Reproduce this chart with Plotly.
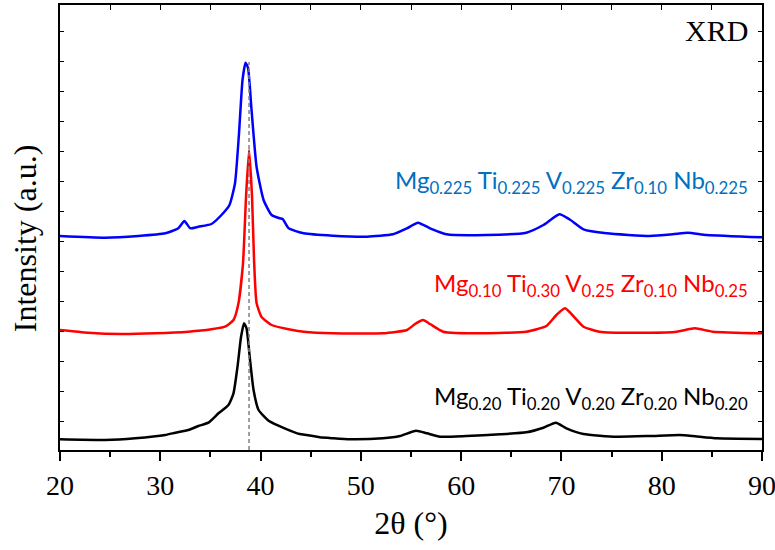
import plotly.graph_objects as go

# XRD patterns (2θ in degrees, intensity in a.u., patterns stacked vertically)
two_theta_black = [20.0, 24.5, 27.5, 30.5, 31.5, 32.8, 33.8, 34.8, 35.8, 36.8,
                   37.3, 37.7, 38.05, 38.35, 38.6, 38.95, 39.3, 39.8, 40.8, 42.4,
                   43.9, 44.6, 45.9, 47.2, 48.9, 52.2, 53.9, 55.5, 56.6, 57.9,
                   60.5, 63.9, 66.5, 68.2, 69.45, 70.5, 72.2, 75.5, 78.8, 81.8,
                   83.1, 85.5, 90.0]
intensity_black = [10.7, 10, 11.7, 15, 17.3, 20, 24, 27.3, 36.7, 45,
                   56.7, 83.3, 113, 126.7, 121.7, 90, 60, 40, 29.3, 21.7,
                   16, 15, 12.7, 11.7, 10.7, 11.7, 14, 19.3, 16.7, 13.3,
                   14, 15.7, 17.7, 22.3, 27.3, 21.7, 16, 13.3, 14, 15,
                   14, 11.7, 11]

two_theta_red = [20, 22.8, 26.1, 29.5, 32.8, 35.1, 36.45, 37.3, 37.8, 38.25,
                 38.55, 38.85, 39.15, 39.35, 39.6, 40.1, 41.1, 42.8, 44.3, 47.2,
                 52.2, 54.6, 55.4, 56.2, 56.9, 58.2, 62.2, 66.5, 68.5, 69.5,
                 70.35, 71.0, 72.2, 73.8, 78.8, 81.5, 83.3, 85.1, 90]
intensity_red = [120, 117.3, 116, 116.7, 118.3, 120.7, 123.3, 130, 147, 187,
                 253, 300, 253, 190, 147, 133, 125, 120.7, 118.3, 116.7,
                 116.7, 120, 126, 130, 126, 118.3, 116.7, 118.3, 124, 135,
                 141.7, 136, 123.3, 118.3, 117.3, 118.3, 121.7, 118.3, 116.7]

two_theta_blue = [20, 24.5, 27.8, 30.5, 31.8, 32.4, 33.0, 33.8, 35.1, 36.1,
                  36.9, 37.45, 37.85, 38.2, 38.5, 38.75, 39.1, 39.6, 40.3, 41.1,
                  41.9, 42.2, 42.8, 44.3, 47.2, 50.6, 53.2, 54.6, 55.7, 56.9,
                  58.55, 62.5, 66.5, 68.2, 69.8, 70.8, 72.2, 74.5, 78.8, 81.1,
                  82.6, 84.5, 90]
intensity_blue = [214, 212.3, 214, 216.7, 221.7, 229, 221.7, 223.3, 226, 235,
                  245, 266.7, 316.7, 370, 387.3, 382, 340, 283.3, 250, 235,
                  231.7, 231, 221.7, 216.7, 214.3, 213.3, 215.7, 221.7, 227.3, 221.7,
                  215.7, 215, 217.3, 225, 235.7, 230.7, 220.7, 216.7, 214, 215.7,
                  217.3, 215, 212.7]

# Reference line through the main reflection
ref_two_theta = 38.85
ref_top = 388

labels = [
    "Mg<sub>0.20</sub> Ti<sub>0.20</sub> V<sub>0.20</sub> Zr<sub>0.20</sub> Nb<sub>0.20</sub>",
    "Mg<sub>0.10</sub> Ti<sub>0.30</sub> V<sub>0.25</sub> Zr<sub>0.10</sub> Nb<sub>0.25</sub>",
    "Mg<sub>0.225</sub> Ti<sub>0.225</sub> V<sub>0.225</sub> Zr<sub>0.10</sub> Nb<sub>0.225</sub>",
]
label_y = [53, 166, 269]
label_colors = ["#000000", "#FF0000", "#0070C0"]

serif = "Liberation Serif"

fig = go.Figure()
for xs, ys, col in [(two_theta_black, intensity_black, "#000000"),
                    (two_theta_red, intensity_red, "#FF0000"),
                    (two_theta_blue, intensity_blue, "#0000FF")]:
    fig.add_trace(go.Scatter(x=xs, y=ys, mode="lines",
                             line=dict(color=col, width=2.5, shape="spline", smoothing=0.5),
                             showlegend=False, hoverinfo="skip"))

fig.add_trace(go.Scatter(x=[ref_two_theta, ref_two_theta], y=[0, ref_top], mode="lines",
                         line=dict(color="#808080", width=1.5, dash="4px,3px"),
                         showlegend=False, hoverinfo="skip"))

# invisible trace that carries the top axis ticks
fig.add_trace(go.Scatter(x=[20, 90], y=[0, 0], xaxis="x2", mode="lines",
                         line=dict(width=0), showlegend=False, hoverinfo="skip"))

for text, y, col in zip(labels, label_y, label_colors):
    fig.add_annotation(x=0.983, xref="paper", y=y, yref="y", text=text,
                       showarrow=False, xanchor="right", yanchor="middle",
                       font=dict(family="Lato", size=24, color=col))

fig.add_annotation(x=0.983, xref="paper", y=0.942, yref="paper", text="XRD",
                   showarrow=False, xanchor="right", yanchor="middle",
                   font=dict(family=serif, size=30, color="black"))

# vertical axis title
fig.add_annotation(x=-0.0505, xref="paper", y=0.475, yref="paper",
                   text="Intensity (a.u.)", textangle=-90, showarrow=False,
                   xanchor="center", yanchor="middle",
                   font=dict(family=serif, size=32, color="#000000"))

fig.update_layout(
    width=775, height=550,
    margin=dict(l=60, r=13, t=5, b=100, autoexpand=False),
    paper_bgcolor="white", plot_bgcolor="white",
    font=dict(family=serif, color="black"),
    xaxis=dict(range=[20, 90], dtick=10, tick0=20, ticks="outside", ticklen=9,
               tickwidth=1.5, tickcolor="black", showline=True, linewidth=1.8,
               linecolor="black", mirror=True, showgrid=False, zeroline=False,
               ticklabeloverflow="allow", automargin=False,
               tickfont=dict(family=serif, size=28, color="black"),
               minor=dict(dtick=5, ticks="outside", ticklen=5, tickwidth=1.5,
                          tickcolor="black", showgrid=False),
               title=dict(text="2θ (°)", standoff=12,
                          font=dict(family=serif, size=32, color="black"))),
    xaxis2=dict(range=[20, 90], overlaying="x", side="top", dtick=5, tick0=20,
                ticks="inside", ticklen=5, tickwidth=1.2, tickcolor="black",
                showticklabels=False, showgrid=False, zeroline=False, showline=False,
                automargin=False),
    yaxis=dict(range=[0, 445], tick0=28.3, dtick=30, ticks="inside", ticklen=4,
               tickwidth=1.2, tickcolor="black", showticklabels=False,
               showline=True, linewidth=1.8, linecolor="black", mirror="ticks",
               showgrid=False, zeroline=False, automargin=False),
)

fig.write_html("out.html")
